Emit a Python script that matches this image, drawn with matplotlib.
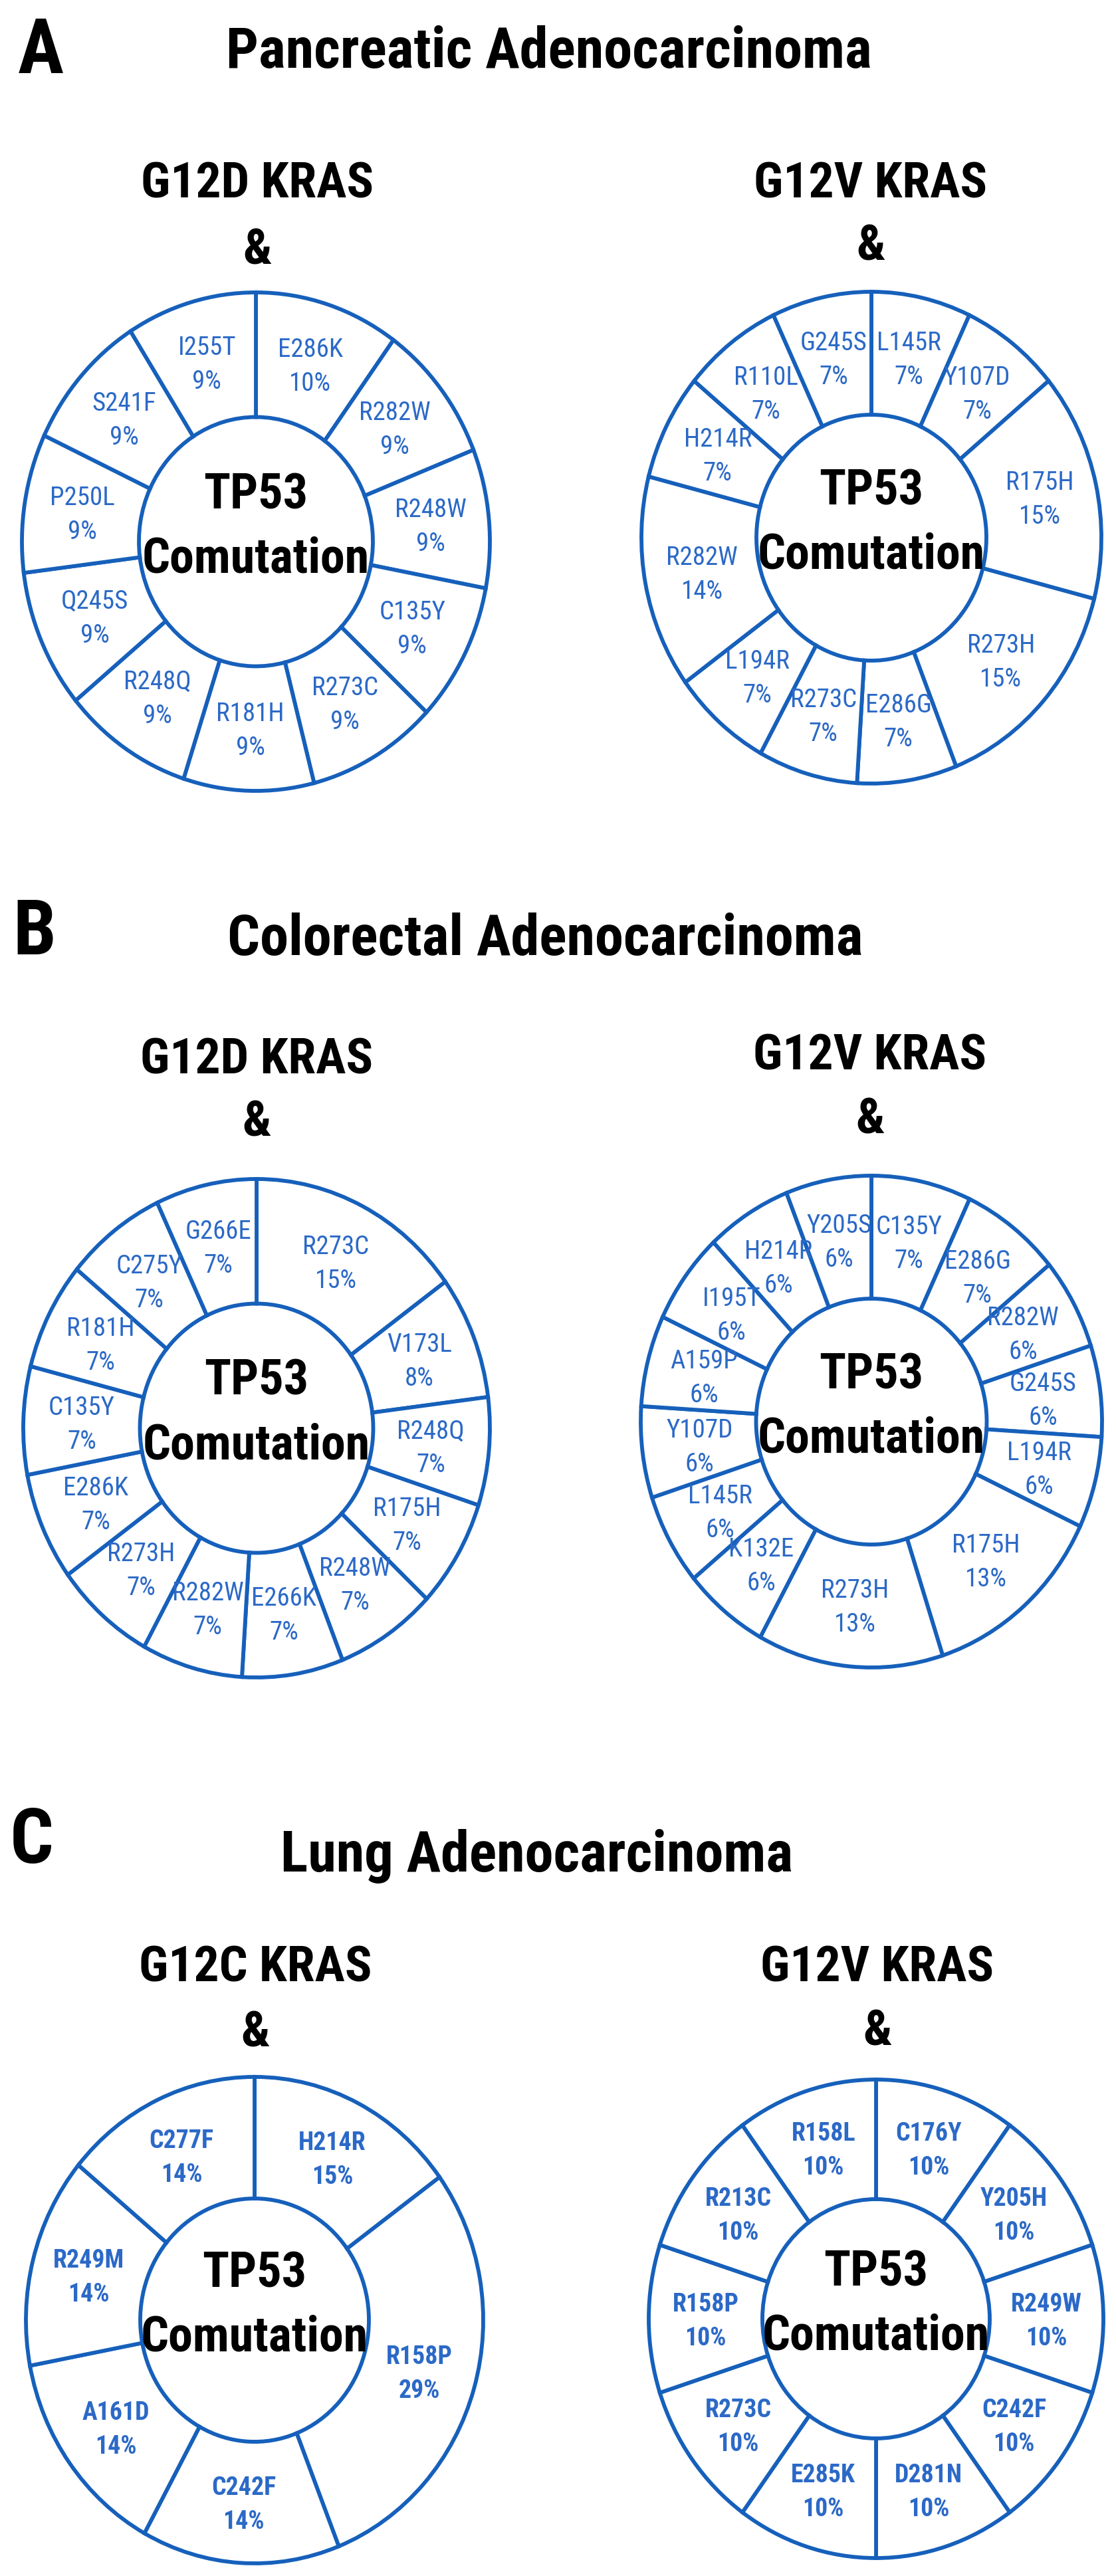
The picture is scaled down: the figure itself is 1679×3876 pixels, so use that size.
import numpy as np
import matplotlib
matplotlib.use('Agg')
from matplotlib import pyplot as plt
from matplotlib import font_manager

# ---- values ----
panc_g12d_labels = ['E286K', 'R282W', 'R248W', 'C135Y', 'R273C', 'R181H',
                    'R248Q', 'Q245S', 'P250L', 'S241F', 'I255T']
panc_g12d_pct = [10, 9, 9, 9, 9, 9, 9, 9, 9, 9, 9]

panc_g12v_labels = ['L145R', 'Y107D', 'R175H', 'R273H', 'E286G', 'R273C',
                    'L194R', 'R282W', 'H214R', 'R110L', 'G245S']
panc_g12v_pct = [7, 7, 15, 15, 7, 7, 7, 14, 7, 7, 7]

crc_g12d_labels = ['R273C', 'V173L', 'R248Q', 'R175H', 'R248W', 'E266K', 'R282W',
                   'R273H', 'E286K', 'C135Y', 'R181H', 'C275Y', 'G266E']
crc_g12d_pct = [15, 8, 7, 7, 7, 7, 7, 7, 7, 7, 7, 7, 7]

crc_g12v_labels = ['C135Y', 'E286G', 'R282W', 'G245S', 'L194R', 'R175H', 'R273H',
                   'K132E', 'L145R', 'Y107D', 'A159P', 'I195T', 'H214R', 'Y205S']
crc_g12v_pct = [7, 7, 6, 6, 6, 13, 13, 6, 6, 6, 6, 6, 6, 6]

lung_g12c_labels = ['H214R', 'R158P', 'C242F', 'A161D', 'R249M', 'C277F']
lung_g12c_pct = [15, 29, 14, 14, 14, 14]

lung_g12v_labels = ['C176Y', 'Y205H', 'R249W', 'C242F', 'D281N',
                    'E285K', 'R273C', 'R158P', 'R213C', 'R158L']
lung_g12v_pct = [10, 10, 10, 10, 10, 10, 10, 10, 10, 10]

section_titles = ['Pancreatic Adenocarcinoma', 'Colorectal Adenocarcinoma', 'Lung Adenocarcinoma']
section_letters = ['A', 'B', 'C']
subtitles = ['G12D KRAS', 'G12V KRAS', 'G12D KRAS', 'G12V KRAS', 'G12C KRAS', 'G12V KRAS']

LINE = '#1660bb'
TXT = '#2b69c7'


# pick a narrow / condensed face if one is installed, else plain Liberation Sans
def find_font(bold):
    prefer = ['Liberation Sans Narrow', 'Roboto Condensed', 'Noto Sans', 'Open Sans',
              'Arimo', 'DejaVu Sans', 'Liberation Sans']
    best = None
    for f in font_manager.fontManager.ttflist:
        if f.style != 'normal':
            continue
        w = f.weight if isinstance(f.weight, int) else font_manager.weight_dict.get(f.weight, 400)
        if (w >= 600) != bold:
            continue
        narrow = (f.stretch in ('condensed', 'semi-condensed', 'extra-condensed')
                  or 'Narrow' in f.name or 'Condensed' in f.name)
        if not narrow:
            continue
        rank = prefer.index(f.name) if f.name in prefer else len(prefer)
        key = (rank, abs(w - (700 if bold else 400)), 0 if f.stretch == 'condensed' else 1)
        if best is None or key < best[0]:
            best = (key, f.fname)
    if best is None:
        return font_manager.FontProperties(family='Liberation Sans',
                                           weight='bold' if bold else 'normal')
    return font_manager.FontProperties(fname=best[1])


FB = find_font(True)
FR = find_font(False)

W, H = 1679, 3876
fig = plt.figure(figsize=(W / 100, H / 100), dpi=100)
fig.patch.set_facecolor('white')
renderer = fig.canvas.get_renderer()


def sized(base, size):
    p = base.copy()
    p.set_size(size)
    return p


def fit(base, s, target_w, max_pt):
    w, _, _ = renderer.get_text_width_height_descent(s, sized(base, 100), ismath=False)
    return min(max_pt, 100 * target_w / w)


# font sizes: keep the reference widths, never taller than the reference
S_LETTER = fit(FB, 'A', 69, 87)
S_TITLE = fit(FB, 'Pancreatic Adenocarcinoma', 972, 66)
S_SUB = fit(FB, 'G12D KRAS', 350, 58)
S_CENTER = fit(FB, 'Comutation', 342, 57)
S_LAB = fit(FR, 'E286K', 101, 28)
S_LAB_C = fit(FB, 'C277F', 97, 30)


def fx(x):
    return x / W


def fy(y):
    return 1 - y / H


def donut(cx, cy, rx, ry, labels, pct, bold=False):
    pad = 1.06
    ax = fig.add_axes([fx(cx - rx * pad), fy(cy + ry * pad), 2 * rx * pad / W, 2 * ry * pad / H])
    wedges, _ = ax.pie(pct, radius=1, startangle=90, counterclock=False,
                       colors=['white'] * len(pct),
                       wedgeprops=dict(width=0.5, edgecolor=LINE, linewidth=4.2))
    ax.set_aspect('auto')
    ax.set_xlim(-pad, pad)
    ax.set_ylim(-pad, pad)
    ax.axis('off')
    lab_fp = sized(FB, S_LAB_C) if bold else sized(FR, S_LAB)
    for w, name, p in zip(wedges, labels, pct):
        a = np.deg2rad((w.theta1 + w.theta2) / 2)
        x0, y0 = 0.75 * np.cos(a), 0.75 * np.sin(a)
        ax.text(x0, y0 + 11 / ry, name, ha='center', va='baseline', color=TXT,
                fontproperties=lab_fp)
        ax.text(x0, y0 - 40 / ry, '%d%%' % p, ha='center', va='baseline', color=TXT,
                fontproperties=lab_fp)
    ax.text(0, 50 / ry, 'TP53', ha='center', va='baseline', color='black',
            fontproperties=sized(FB, S_CENTER))
    ax.text(0, -47 / ry, 'Comutation', ha='center', va='baseline', color='black',
            fontproperties=sized(FB, S_CENTER))


# panel letters and section titles
letter_pos = [(27, 110), (19, 1436), (15, 2803)]
title_pos = [(826, 102), (820, 1437), (807, 2816)]
for letter, (lx, ly), title, (tx, ty) in zip(section_letters, letter_pos, section_titles, title_pos):
    fig.text(fx(lx), fy(ly), letter, ha='left', va='baseline',
             fontproperties=sized(FB, S_LETTER))
    fig.text(fx(tx), fy(ty), title, ha='center', va='baseline',
             fontproperties=sized(FB, S_TITLE))

# subtitles "XXX KRAS" and "&"
sub_pos = [(387, 298, 397), (1310, 297, 392), (386, 1616, 1710),
           (1309, 1609, 1705), (384, 2982, 3080), (1320, 2982, 3078)]
for s, (sx, sy1, sy2) in zip(subtitles, sub_pos):
    fig.text(fx(sx), fy(sy1), s, ha='center', va='baseline',
             fontproperties=sized(FB, S_SUB))
    fig.text(fx(sx), fy(sy2), '&', ha='center', va='baseline',
             fontproperties=sized(FB, S_SUB))

# the six donuts
donut(385, 815, 352, 375, panc_g12d_labels, panc_g12d_pct)
donut(1311, 809, 346, 370, panc_g12v_labels, panc_g12v_pct)
donut(386, 2149, 351, 375, crc_g12d_labels, crc_g12d_pct)
donut(1311, 2139, 347, 370, crc_g12v_labels, crc_g12v_pct)
donut(383, 3491, 344, 366, lung_g12c_labels, lung_g12c_pct, bold=True)
donut(1318, 3489, 342, 360, lung_g12v_labels, lung_g12v_pct, bold=True)

fig.savefig('out.png', dpi=100)
